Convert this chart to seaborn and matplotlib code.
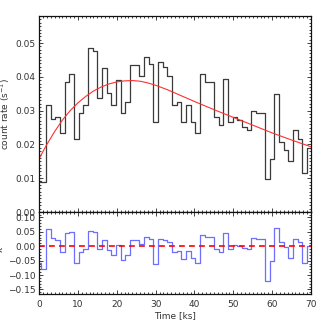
import numpy as np
import pandas as pd
import matplotlib
matplotlib.use("Agg")
import matplotlib.pyplot as plt
import seaborn as sns
from matplotlib.ticker import MultipleLocator, FuncFormatter

# ---------------- data ----------------
bin_width = 1.2  # ks
bin_centers = np.arange(59) * bin_width  # ks

rate = [0.0092, 0.0089, 0.0316, 0.0274, 0.0282, 0.0233, 0.0384, 0.0409, 0.0216, 0.0292,
        0.0316, 0.0485, 0.0476, 0.0338, 0.0426, 0.0352, 0.0316, 0.0392, 0.0293, 0.0326,
        0.0436, 0.0436, 0.0401, 0.0459, 0.0437, 0.0267, 0.0444, 0.0428, 0.0401, 0.0317,
        0.0325, 0.0266, 0.0317, 0.0266, 0.0233, 0.0408, 0.0386, 0.0386, 0.0282, 0.0258,
        0.0393, 0.0266, 0.0282, 0.0272, 0.0251, 0.0243, 0.0300, 0.0292, 0.0292, 0.0099,
        0.0157, 0.0350, 0.0208, 0.0183, 0.0150, 0.0242, 0.0217, 0.0116, 0.0190]

resid = [-0.059, -0.079, 0.059, 0.028, 0.022, -0.019, 0.045, 0.049, -0.057, -0.019,
         -0.010, 0.054, 0.049, -0.010, 0.022, -0.013, -0.030, 0.005, -0.049, -0.030,
         0.022, 0.022, 0.007, 0.031, 0.024, -0.062, 0.026, 0.022, 0.015, -0.020,
         -0.016, -0.043, -0.016, -0.040, -0.059, 0.038, 0.032, 0.032, -0.011, -0.021,
         0.045, -0.010, 0.005, 0.002, -0.007, -0.009, 0.028, 0.024, 0.024, -0.120,
         -0.051, 0.062, 0.013, -0.001, -0.042, 0.024, 0.014, -0.059, 0.000]

model_t = [0, 2, 4, 6, 8, 10, 12, 14, 16, 18, 20, 22, 24, 26, 28, 30, 33, 36, 40, 45,
           50, 55, 60, 65, 70]
model_rate = [0.0158, 0.0200, 0.0238, 0.0272, 0.0300, 0.0323, 0.0342, 0.0358, 0.0370,
              0.0379, 0.0385, 0.0388, 0.0389, 0.0387, 0.0382, 0.0375, 0.0362, 0.0347,
              0.0327, 0.0303, 0.0280, 0.0257, 0.0234, 0.0213, 0.0193]

x_ticks = [0, 10, 20, 30, 40, 50, 60, 70]
rate_ticks = [0.00, 0.01, 0.02, 0.03, 0.04, 0.05]
resid_ticks = [-0.15, -0.10, -0.05, 0.00, 0.05, 0.10]

# ---------------- step tables ----------------
t_max = 70.0
left = np.clip(np.asarray(bin_centers) - bin_width / 2, 0, t_max)
step_x = np.append(left, t_max)
top_df = pd.DataFrame({"t": step_x, "rate": rate + [rate[-1]]})
res_df = pd.DataFrame({"t": step_x, "resid": resid + [resid[-1]]})
mod_df = pd.DataFrame({"t": model_t, "rate": model_rate})

# ---------------- figure ----------------
sns.set_theme(style="ticks")
plt.rcParams["font.family"] = ["DejaVu Sans"]
plt.rcParams["axes.unicode_minus"] = True

W = H = 327
fig = plt.figure(figsize=(3.27, 3.27), dpi=100)
L, R = 39.1, 311.0
ax1 = fig.add_axes([L / W, 1 - 212 / H, (R - L) / W, (212 - 16) / H])
ax2 = fig.add_axes([L / W, 1 - 294 / H, (R - L) / W, (294 - 212) / H])

txt_col = "#333333"
fs = 6.5

sns.lineplot(data=top_df, x="t", y="rate", ax=ax1, drawstyle="steps-post",
             color="#3a3a3a", lw=0.9, sort=False, estimator=None)
sns.lineplot(data=mod_df, x="t", y="rate", ax=ax1, color="#ff3030", lw=0.8,
             sort=False, estimator=None)

sns.lineplot(data=res_df, x="t", y="resid", ax=ax2, drawstyle="steps-post",
             color="#6f6fff", lw=0.9, sort=False, estimator=None)
ax2.axhline(0, color="#ff0000", lw=1.2, ls=(0, (3.5, 2.5)))

ax1.set_xlim(0, 70)
ax1.set_ylim(0, 0.058)
ax2.set_xlim(0, 70)
ax2.set_ylim(-0.166, 0.119)

fmt = FuncFormatter(lambda v, p: ("%.2f" % v).replace("-", "\u2212"))

for ax in (ax1, ax2):
    ax.set_xticks(x_ticks)
    ax.xaxis.set_minor_locator(MultipleLocator(1))
    ax.tick_params(which="both", direction="in", top=True, right=True,
                   colors="#222222", labelcolor=txt_col, labelsize=fs, width=0.6)
    ax.tick_params(which="major", length=3.0, pad=2.5)
    ax.tick_params(which="minor", length=1.5)
    for s in ax.spines.values():
        s.set_linewidth(0.9)
        s.set_color("#111111")
    ax.set_xlabel("")
    ax.set_ylabel("")

ax1.set_yticks(rate_ticks)
ax1.yaxis.set_minor_locator(MultipleLocator(0.001))
ax1.yaxis.set_major_formatter(fmt)
ax1.tick_params(axis="x", labelbottom=False)

ax2.set_yticks(resid_ticks)
ax2.yaxis.set_minor_locator(MultipleLocator(0.01))
ax2.yaxis.set_major_formatter(fmt)
ax2.tick_params(axis="x", pad=4)

ax1.set_ylabel("count rate (s$^{-1}$)", fontsize=fs, color=txt_col)
ax1.yaxis.set_label_coords(-0.099, 0.5)
ax2.set_xlabel("Time [ks]", fontsize=fs, color=txt_col, labelpad=2)
fig.text(-0.004, 1 - 249 / H, "\u03c7", fontsize=fs, color=txt_col,
         rotation=90, ha="center", va="center")

fig.savefig("out.png", dpi=100)
